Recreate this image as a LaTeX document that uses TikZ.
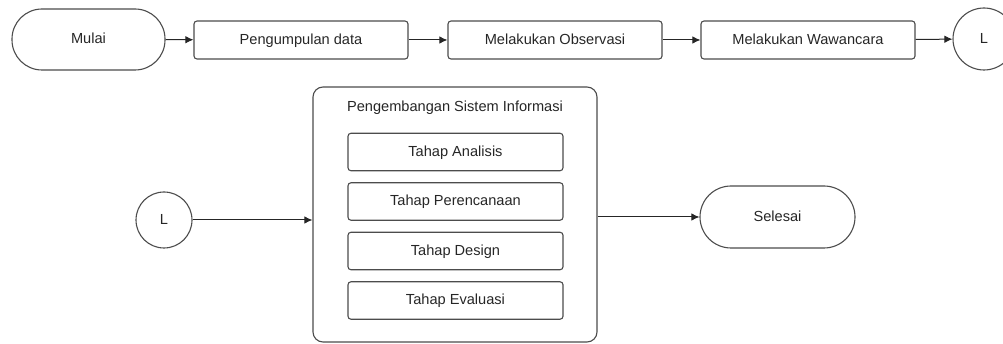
\documentclass[tikz,border=0pt]{standalone}
\usepackage{fontspec}
\setmainfont{Liberation Sans}
\usetikzlibrary{arrows.meta,positioning}
\begin{document}
\begin{tikzpicture}[x=1pt,y=-1pt,
  every node/.style={font=\fontsize{14.6}{17}\selectfont, text=black!85, inner sep=0pt, text height=10.7pt, text depth=2pt},
  box/.style={draw=black!70, line width=1.1pt, rounded corners=3pt, minimum width=214pt, minimum height=38pt},
  term/.style={draw=black!70, line width=1.1pt, rounded corners=30pt, minimum width=153pt, minimum height=61pt},
  conn/.style={draw=black!70, line width=1.1pt, circle, minimum size=#1},
  cont/.style={draw=black!70, line width=1.1pt, rounded corners=10pt, minimum width=284pt, minimum height=255pt},
  arr/.style={-{Latex[length=8pt,width=7.5pt]}, line width=1pt, draw=black!85}
]
\useasboundingbox (0,0) rectangle (1003,344);
\node[term] (mulai) at (88.5,39.5) {Mulai};
\node[box] (p1) at (301,40) {Pengumpulan data};
\node[box] (p2) at (555,40) {Melakukan Observasi};
\node[box] (p3) at (808,40) {Melakukan Wawancara};
\node[conn=62pt] (l1) at (984,39) {L};

\node[conn=56pt] (l2) at (164,220) {L};
\node[cont] (c) at (455,214.5) {};
\node (ct) at (455,107) {Pengembangan Sistem Informasi};
\node[box, minimum width=215pt, minimum height=37.5pt] (t1) at (455.5,152) {Tahap Analisis};
\node[box, minimum width=215pt, minimum height=37.5pt] (t2) at (455.5,201.5) {Tahap Perencanaan};
\node[box, minimum width=215pt, minimum height=37.5pt] (t3) at (455.5,251) {Tahap Design};
\node[box, minimum width=215pt, minimum height=37.5pt] (t4) at (455.5,300.5) {Tahap Evaluasi};
\node[term, minimum width=155pt, minimum height=62pt, rounded corners=31pt] (sel) at (777.5,217) {Selesai};

\draw[arr] (mulai) -- (p1);
\draw[arr] (p1) -- (p2);
\draw[arr] (p2) -- (p3);
\draw[arr] (p3) -- (l1);
\draw[arr] (l2.east) -- (l2.east -| c.west);
\draw[arr] (sel.west -| c.east) -- (sel.west);
\end{tikzpicture}
\end{document}
